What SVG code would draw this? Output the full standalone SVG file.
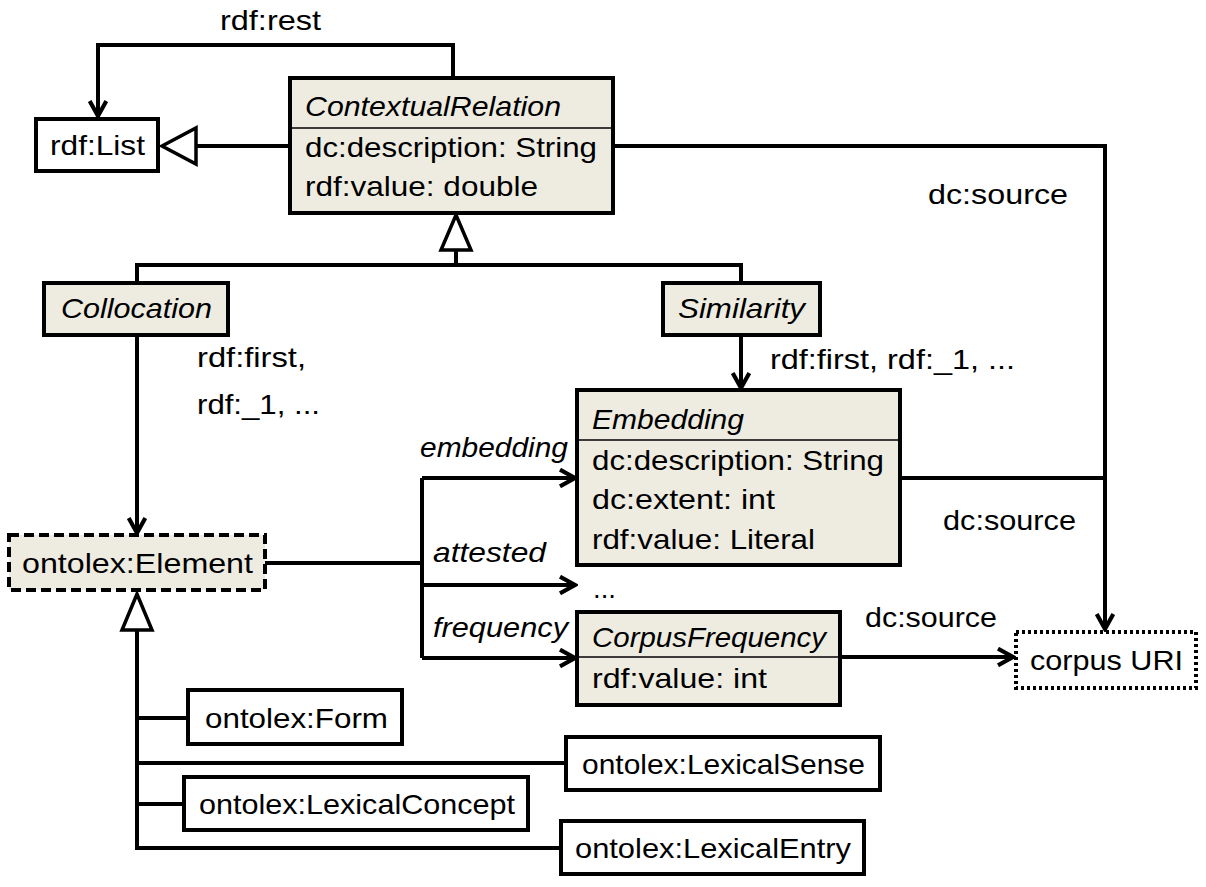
<svg xmlns="http://www.w3.org/2000/svg" width="1206" height="887" viewBox="0 0 1206 887">
<defs>
<style>
text{font-family:"Liberation Sans",Arial,sans-serif;font-size:28px;fill:#000}
.it{font-style:italic}
.box{fill:#fff;stroke:#000;stroke-width:4}
.cls{fill:#eeece1;stroke:#000;stroke-width:4}
.div{stroke:#000;stroke-width:1.5}
.ln{fill:none;stroke:#000;stroke-width:4}
.tri{fill:#fff;stroke:#000;stroke-width:3.5}
</style>
<marker id="arr" viewBox="0 0 12 12" refX="10" refY="6" markerWidth="5" markerHeight="5" markerUnits="strokeWidth" orient="auto">
<path d="M1,1 L10,6 L1,11" fill="none" stroke="#000" stroke-width="2.5"/>
</marker>
</defs>
<g id="connectors">
<path class="ln" d="M453,78 V45 H98 V116" marker-end="url(#arr)"/>
<path class="ln" d="M290,146 H196"/>
<polygon class="tri" points="162,146 196,128 196,164"/>
<path class="ln" d="M613,146 H1105 V629" marker-end="url(#arr)"/>
<polygon class="tri" points="456,215 441,250 471,250"/>
<path class="ln" d="M456,250 V265 M137,283 V265 H741 V283"/>
<path class="ln" d="M137,335 V533" marker-end="url(#arr)"/>
<path class="ln" d="M741,335 V388" marker-end="url(#arr)"/>
<path class="ln" d="M900,478 H1105"/>
<path class="ln" d="M265,563 H422 M422,478 V658"/>
<path class="ln" d="M422,478 H575" marker-end="url(#arr)"/>
<path class="ln" d="M422,585 H575" marker-end="url(#arr)"/>
<path class="ln" d="M422,658 H575" marker-end="url(#arr)"/>
<path class="ln" d="M840,657 H1013" marker-end="url(#arr)"/>
<polygon class="tri" points="137,594 122,630 152,630"/>
<path class="ln" d="M137,630 V848 H561 M137,718 H188 M137,763 H566 M137,804 H184"/>
<text x="220" y="30" textLength="101" lengthAdjust="spacingAndGlyphs">rdf:rest</text>
<text x="928" y="204" textLength="140" lengthAdjust="spacingAndGlyphs">dc:source</text>
<text x="197" y="367" textLength="109" lengthAdjust="spacingAndGlyphs">rdf:first,</text>
<text x="197" y="414" textLength="123" lengthAdjust="spacingAndGlyphs">rdf:_1, ...</text>
<text x="770" y="369" textLength="245" lengthAdjust="spacingAndGlyphs">rdf:first, rdf:_1, ...</text>
<text class="it" x="420" y="457" textLength="148" lengthAdjust="spacingAndGlyphs">embedding</text>
<text class="it" x="433" y="562" textLength="113" lengthAdjust="spacingAndGlyphs">attested</text>
<text class="it" x="433" y="637" textLength="135" lengthAdjust="spacingAndGlyphs">frequency</text>
<text x="943" y="530" textLength="133" lengthAdjust="spacingAndGlyphs">dc:source</text>
<text x="865" y="627" textLength="132" lengthAdjust="spacingAndGlyphs">dc:source</text>
<text x="593" y="598" textLength="23" lengthAdjust="spacingAndGlyphs">...</text>
</g>
<g id="rdfList">
<rect class="box" x="36" y="119" width="122" height="52"/>
<text x="50" y="155" textLength="95" lengthAdjust="spacingAndGlyphs">rdf:List</text>
</g>
<g id="ContextualRelation">
<rect class="cls" x="290" y="78" width="323" height="135"/>
<line class="div" x1="290" y1="128" x2="613" y2="128"/>
<text class="it" x="305" y="116" textLength="256" lengthAdjust="spacingAndGlyphs">ContextualRelation</text>
<text x="305" y="157" textLength="292" lengthAdjust="spacingAndGlyphs">dc:description: String</text>
<text x="305" y="196" textLength="233" lengthAdjust="spacingAndGlyphs">rdf:value: double</text>
</g>
<g id="Collocation">
<rect class="cls" x="44" y="283" width="184" height="52"/>
<text class="it" x="61" y="318" textLength="151" lengthAdjust="spacingAndGlyphs">Collocation</text>
</g>
<g id="Similarity">
<rect class="cls" x="663" y="283" width="157" height="52"/>
<text class="it" x="678" y="318" textLength="127" lengthAdjust="spacingAndGlyphs">Similarity</text>
</g>
<g id="Embedding">
<rect class="cls" x="577" y="390" width="323" height="175"/>
<line class="div" x1="577" y1="440" x2="900" y2="440"/>
<text class="it" x="592" y="429" textLength="152" lengthAdjust="spacingAndGlyphs">Embedding</text>
<text x="592" y="470" textLength="292" lengthAdjust="spacingAndGlyphs">dc:description: String</text>
<text x="592" y="509" textLength="183" lengthAdjust="spacingAndGlyphs">dc:extent: int</text>
<text x="592" y="549" textLength="223" lengthAdjust="spacingAndGlyphs">rdf:value: Literal</text>
</g>
<g id="ontolexElement">
<rect x="9" y="535" width="256" height="55" fill="#eeece1" stroke="#000" stroke-width="4" stroke-dasharray="10,5"/>
<text x="22" y="573" textLength="231" lengthAdjust="spacingAndGlyphs">ontolex:Element</text>
</g>
<g id="CorpusFrequency">
<rect class="cls" x="577" y="612" width="263" height="93"/>
<line class="div" x1="577" y1="657" x2="840" y2="657"/>
<text class="it" x="592" y="647" textLength="234" lengthAdjust="spacingAndGlyphs">CorpusFrequency</text>
<text x="592" y="688" textLength="175" lengthAdjust="spacingAndGlyphs">rdf:value: int</text>
</g>
<g id="corpusURI">
<rect x="1016" y="632" width="180" height="56" fill="#fff" stroke="#000" stroke-width="4" stroke-dasharray="3,3"/>
<text x="1030" y="670" textLength="153" lengthAdjust="spacingAndGlyphs">corpus URI</text>
</g>
<g id="ontolexForm">
<rect class="box" x="188" y="690" width="214" height="54"/>
<text x="205" y="728" textLength="183" lengthAdjust="spacingAndGlyphs">ontolex:Form</text>
</g>
<g id="ontolexLexicalSense">
<rect class="box" x="566" y="737" width="314" height="53"/>
<text x="582" y="774" textLength="283" lengthAdjust="spacingAndGlyphs">ontolex:LexicalSense</text>
</g>
<g id="ontolexLexicalConcept">
<rect class="box" x="184" y="777" width="344" height="53"/>
<text x="199" y="814" textLength="316" lengthAdjust="spacingAndGlyphs">ontolex:LexicalConcept</text>
</g>
<g id="ontolexLexicalEntry">
<rect class="box" x="561" y="821" width="303" height="53"/>
<text x="575" y="858" textLength="276" lengthAdjust="spacingAndGlyphs">ontolex:LexicalEntry</text>
</g>
</svg>
